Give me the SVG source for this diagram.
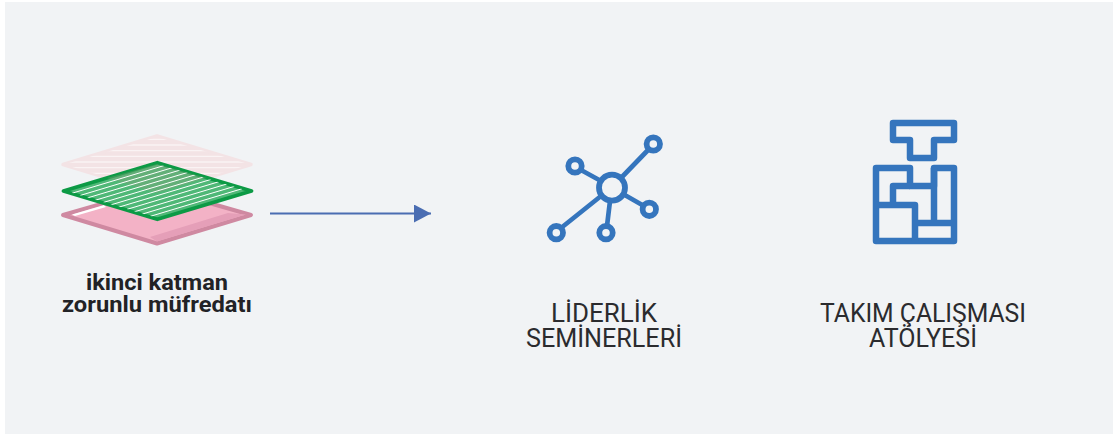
<svg xmlns="http://www.w3.org/2000/svg" width="1113" height="434" viewBox="0 0 1113 434">
  <style>
    .lbl{font-family:"Roboto","Liberation Sans",sans-serif;font-size:25px;fill:#2b2b2e;text-anchor:middle}
    .bold{font-family:"Roboto","Liberation Sans",sans-serif;font-size:22px;font-weight:700;fill:#222226;text-anchor:middle}
    .ico{fill:none;stroke:#3575bd;stroke-width:6.5}
    .net{fill:none;stroke:#3575bd;stroke-width:5.8}
    .st{stroke:#fff;stroke-width:1;fill:none}
  </style>
  <defs>
    <clipPath id="cTop"><polygon points="157,137 250,164.5 157,192 64,164.5"/></clipPath>
    <clipPath id="cGreen"><polygon points="157.3,164 249,191 157.3,218 65.6,191"/></clipPath>
    <marker id="arr" markerUnits="userSpaceOnUse" markerWidth="17" markerHeight="18" refX="17" refY="9" orient="auto"><path d="M0,0L17,9L0,18Z" fill="#4a6db2"/></marker>
  </defs>
  <rect width="1113" height="434" fill="#fff"/>
  <rect x="5" y="2" width="1108" height="432" fill="#f1f3f5"/>

  <g id="layer-stack">
    <g id="layer-top">
      <polygon points="157,136 251,164.5 157,193 63,164.5" fill="#f3e3e5" stroke="#f3e3e5" stroke-width="3.5" stroke-linejoin="round"/>
      <g clip-path="url(#cTop)" stroke="#faf3f4" stroke-width="1.3">
        <path d="M60,139.300H260M60,145H260M60,150.700H260M60,156.300H260M60,162H260M60,167.700H260M60,173.300H260M60,179H260M60,184.700H260"/>
      </g>
    </g>
    <g id="layer-bottom">
      <polygon points="157,188 251,215 157,243.500 63,215" fill="#f3b2c6" stroke="#cf89a1" stroke-width="4" stroke-linejoin="round"/>
      <polygon points="150,237 228,213 246,214.500 157,241.500" fill="#e59fb8"/>
      <polygon points="72,214.500 104,205 106,207 75,216" fill="#fff"/>
    </g>
    <g id="layer-green">
      <polygon points="157.300,162.700 251.500,191 157.300,219.300 63.500,191" fill="#4fb877" stroke="#0c9a45" stroke-width="3.800" stroke-linejoin="round"/>
      <polygon points="157,164 207,178 157,193 107,178" fill="#8a9e7c" opacity=".35"/>
      <g clip-path="url(#cGreen)">
        <path class="st" d="M71.750,193.330L164.750,165.330M79.500,195.670L172.500,167.670M87.250,198L180.250,170M95,200.330L188,172.330M102.750,202.670L195.750,174.670M110.500,205L203.500,177M118.250,207.330L211.250,179.330M126,209.670L219,181.670M133.750,212L226.750,184M141.500,214.330L234.500,186.330M149.250,216.670L242.250,188.670"/>
      </g>
    </g>
  </g>

  <g id="stack-label">
    <text class="bold" x="157" y="290" textLength="142" lengthAdjust="spacingAndGlyphs">ikinci katman</text>
    <text class="bold" x="157" y="312" textLength="190" lengthAdjust="spacingAndGlyphs">zorunlu müfredatı</text>
  </g>

  <g id="connectors">
    <line x1="270" y1="213.500" x2="431" y2="213.500" stroke="#4a6db2" stroke-width="2" marker-end="url(#arr)"/>
  </g>

  <g id="node-liderlik">
    <g class="net">
      <circle cx="612" cy="187.700" r="13"/>
      <circle cx="653.300" cy="144" r="6.700"/>
      <circle cx="575" cy="166" r="6.700"/>
      <circle cx="649.300" cy="209.300" r="6.700"/>
      <circle cx="556.300" cy="232.700" r="6.700"/>
      <circle cx="606" cy="232.700" r="6.700"/>
      <path stroke-width="4.700" d="M621,178L649,149M601,181L581,170M623,194L644,206M601,196L561,228M610,201L607,226"/>
    </g>
    <text class="lbl" x="604" y="322" textLength="106" lengthAdjust="spacingAndGlyphs">LİDERLİK</text>
    <text class="lbl" x="604" y="347" textLength="156" lengthAdjust="spacingAndGlyphs">SEMİNERLERİ</text>
  </g>

  <g id="node-takim">
    <g class="ico" stroke-linejoin="round">
      <path d="M893,123H954V140H934V158H910V140H893Z"/>
      <path d="M876,168H910V186H934V168H954V241H876Z"/>
      <path d="M876,205H915V241M893,205V186H910M915,223H954M934,168V223"/>
    </g>
    <text class="lbl" x="923" y="322" textLength="206" lengthAdjust="spacingAndGlyphs">TAKIM ÇALIŞMASI</text>
    <text class="lbl" x="923" y="347" textLength="108" lengthAdjust="spacingAndGlyphs">ATÖLYESİ</text>
  </g>
</svg>
